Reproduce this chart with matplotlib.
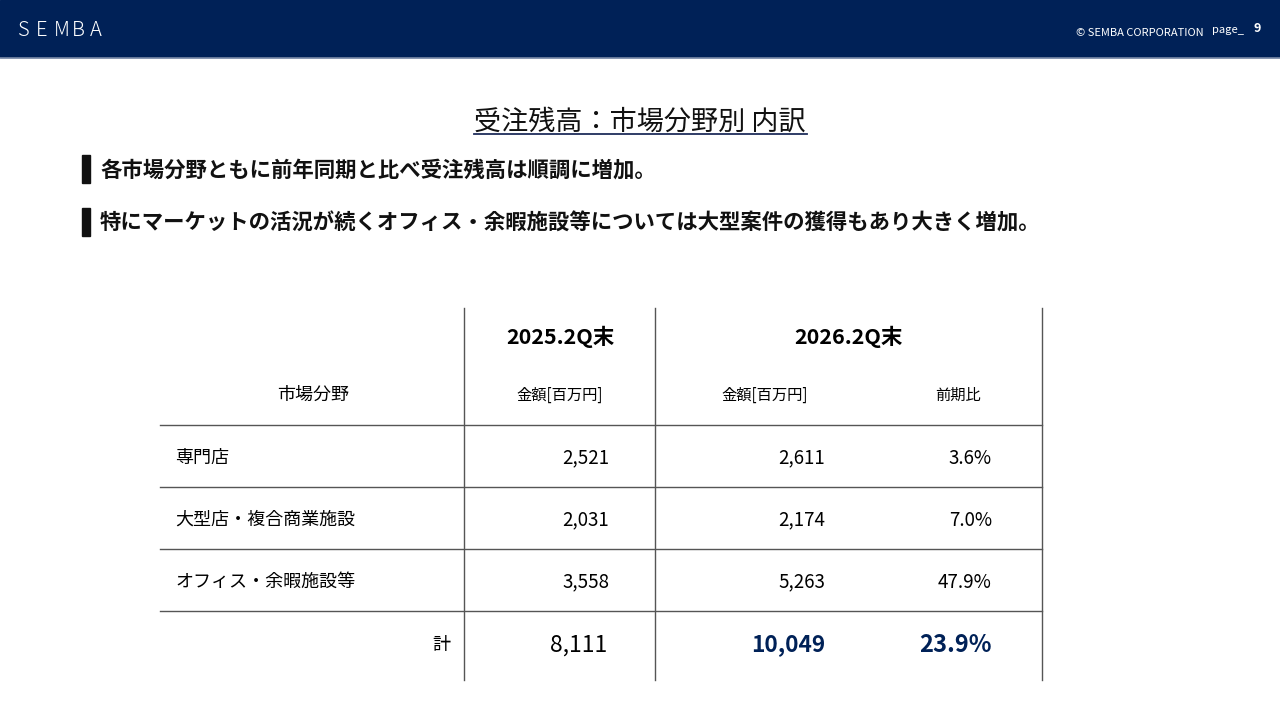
import matplotlib.pyplot as plt
from matplotlib.patches import Rectangle

plt.rcParams['font.family'] = ['Noto Sans CJK JP', 'DejaVu Sans']

# table data
segments = ['専門店', '大型店・複合商業施設', 'オフィス・余暇施設等']
amount_2025 = [2521, 2031, 3558]
amount_2026 = [2611, 2174, 5263]
growth = [3.6, 7.0, 47.9]
total_2025 = 8111
total_2026 = 10049
total_growth = 23.9

title = '受注残高：市場分野別 内訳'
bullets = ['各市場分野ともに前年同期と比べ受注残高は順調に増加。',
           '特にマーケットの活況が続くオフィス・余暇施設等については大型案件の獲得もあり大きく増加。']

navy = '#002157'
line_c = '#555555'
dy = 2  # CJK glyphs sit a little high with va='center'

fig = plt.figure(figsize=(12.8, 7.2), dpi=100)
ax = fig.add_axes([0, 0, 1, 1])
ax.set_xlim(0, 1280)
ax.set_ylim(720, 0)
ax.axis('off')

# header band
ax.add_patch(Rectangle((0, 0), 1280, 57, color=navy, zorder=1))
ax.plot([0, 1280], [57.5, 57.5], color='#7a8aa8', lw=1.2, zorder=2)
for i, ch in enumerate('SEMBA'):
    ax.text(18 + i * 18, 28 + dy, ch, color='white', fontsize=14.5, fontweight='light',
            va='center', ha='left')
ax.text(1204, 31 + dy, '© SEMBA CORPORATION', color='white', fontsize=8,
        va='center', ha='right')
ax.text(1212, 28 + dy, 'page_', color='white', fontsize=8, va='center', ha='left')
ax.text(1253, 27 + dy, '9', color='white', fontsize=9, fontweight='bold',
        va='center', ha='left')

# title
ax.text(640, 120 + dy, title, fontsize=19.5, ha='center', va='center', color='#111111')
ax.plot([474, 807], [134, 134], color='#1f2d5a', lw=1.3)

# bullets
for y, b in zip([168, 221], bullets):
    ax.add_patch(Rectangle((82, y - 13), 8, 28, color='#111111'))
    ax.text(100, y + dy, b, fontsize=15.4, fontweight='bold', ha='left', va='center',
            color='#111111')

# table grid
for x in [464, 655, 1042]:
    ax.plot([x, x], [308, 680], color=line_c, lw=1)
for y in [425, 487, 549, 611]:
    ax.plot([160, 1042], [y, y], color=line_c, lw=1)

# headers
ax.text(560, 335 + dy, '2025.2Q末', fontsize=15.5, fontweight='bold', ha='center', va='center')
ax.text(848, 335 + dy, '2026.2Q末', fontsize=15.5, fontweight='bold', ha='center', va='center')
ax.text(313, 393 + dy, '市場分野', fontsize=13, ha='center', va='center')
ax.text(560, 393 + dy, '金額[百万円]', fontsize=11, ha='center', va='center')
ax.text(765, 393 + dy, '金額[百万円]', fontsize=11, ha='center', va='center')
ax.text(958, 393 + dy, '前期比', fontsize=11, ha='center', va='center')

# body rows
row_y = [456, 518, 580]
for y, seg, a, b, g in zip(row_y, segments, amount_2025, amount_2026, growth):
    ax.text(175, y + dy, seg, fontsize=13, ha='left', va='center')
    ax.text(609, y + dy, f'{a:,}', fontsize=13.5, ha='right', va='center')
    ax.text(825, y + dy, f'{b:,}', fontsize=13.5, ha='right', va='center')
    ax.text(992, y + dy, f'{g:.1f}%', fontsize=13.5, ha='right', va='center')

# total row
ty = 643 + dy
ax.text(450, ty, '計', fontsize=13, ha='right', va='center')
ax.text(607, ty, f'{total_2025:,}', fontsize=16.5, ha='right', va='center')
ax.text(825, ty, f'{total_2026:,}', fontsize=16.3, fontweight='bold', color=navy,
        ha='right', va='center')
ax.text(992, ty, f'{total_growth:.1f}%', fontsize=17, fontweight='bold', color=navy,
        ha='right', va='center')

fig.savefig('out.png', dpi=100)
